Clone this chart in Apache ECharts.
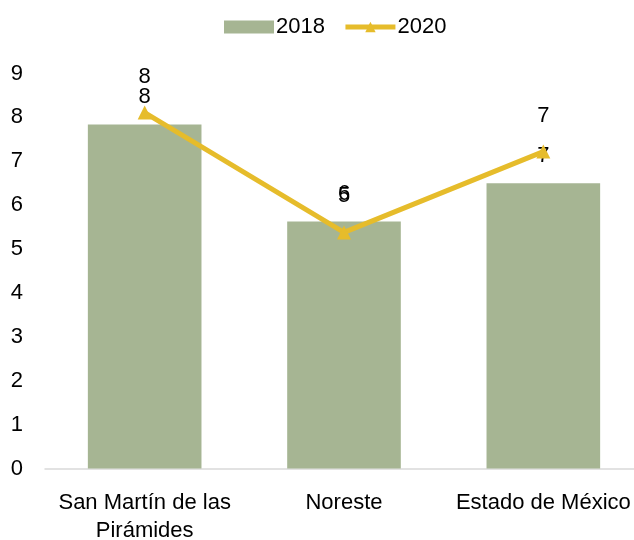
<!DOCTYPE html>
<html>
<head>
<meta charset="utf-8">
<script src="https://cdn.jsdelivr.net/npm/echarts@6/dist/echarts.min.js"></script>
<style>
  html, body { margin: 0; padding: 0; background: #fff; }
  #chart { width: 634px; height: 540px; }
</style>
</head>
<body>
<div id="chart"></div>
<script>
const categories = ['San Martín de las\nPirámides', 'Noreste', 'Estado de México']
const values2018 = [7.84, 5.63, 6.5]
const values2020 = [8.11, 5.38, 7.22]
const yTicks = [0, 1, 2, 3, 4, 5, 6, 7, 8, 9]

const font = 'Liberation Sans, Arial, sans-serif'
const chart = echarts.init(document.getElementById('chart'))

chart.setOption({
  animation: false,
  textStyle: { fontFamily: font },
  legend: {
    top: 11,
    left: 219,
    itemWidth: 50,
    itemHeight: 13,
    itemGap: 18,
    textStyle: { fontSize: 22, color: '#000', fontFamily: font, padding: [0, 0, 0, -3] },
    data: [
      { name: '2018', icon: 'rect' },
      { name: '2020', lineStyle: { width: 5 } }
    ]
  },
  grid: {
    left: 45,
    width: 598,
    top: 73.5,
    bottom: 71.5,
    outerBoundsMode: 'none'
  },
  xAxis: {
    type: 'category',
    data: categories,
    axisTick: { show: false },
    axisLine: { lineStyle: { color: '#D9D9D9', width: 1.5 } },
    axisLabel: {
      color: '#000',
      fontSize: 22,
      margin: 20,
      lineHeight: 28,
      interval: 0
    }
  },
  yAxis: {
    type: 'value',
    min: yTicks[0],
    max: yTicks[yTicks.length - 1],
    interval: 1,
    splitLine: { show: false },
    axisLine: { show: false },
    axisTick: { show: false },
    axisLabel: { color: '#000', fontSize: 22, margin: 22 }
  },
  series: [
    {
      name: '2018',
      type: 'bar',
      data: values2018,
      barWidth: '57%',
      itemStyle: { color: '#A6B593' },
      label: {
        show: true,
        position: 'top',
        distance: 16,
        color: '#000',
        fontSize: 22,
        formatter: p => Math.round(p.value)
      }
    },
    {
      name: '2020',
      type: 'line',
      data: values2020,
      symbol: 'triangle',
      symbolSize: 14,
      lineStyle: { color: '#E6BC2B', width: 5 },
      itemStyle: { color: '#E6BC2B' },
      label: {
        show: true,
        position: 'top',
        distance: 18,
        color: '#000',
        fontSize: 22,
        formatter: p => Math.round(p.value)
      }
    }
  ]
})
</script>
</body>
</html>
